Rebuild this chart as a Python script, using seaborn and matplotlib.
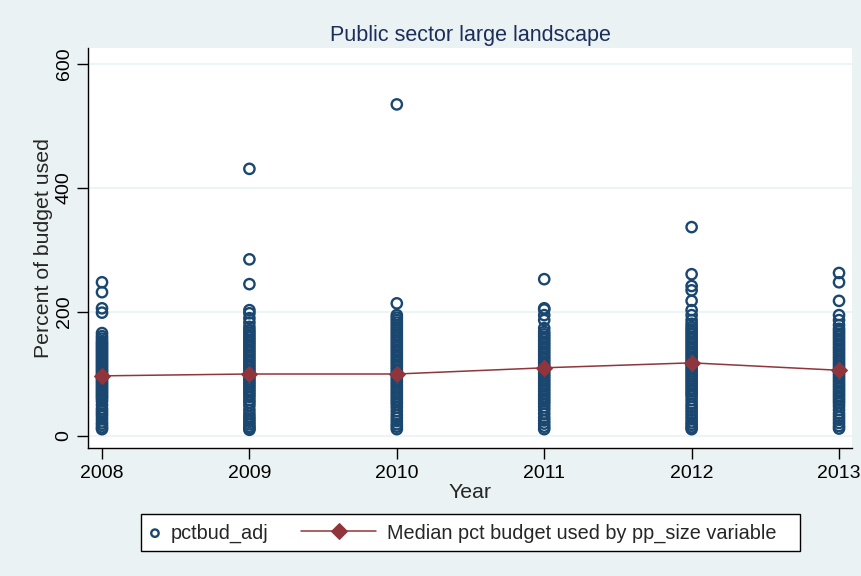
import pandas as pd
import numpy as np
import matplotlib.pyplot as plt
import seaborn as sns
from matplotlib.patches import Rectangle

sns.set_theme(style="white")
plt.rcParams['font.family'] = ['Liberation Sans', 'DejaVu Sans']

# Values (percent of budget used, per year)
years = [2008, 2009, 2010, 2011, 2012, 2013]
y2008 = [248, 232, 206, 199, 166, 161, 157, 153, 150, 147, 144, 141, 138, 135, 132, 129, 126,
         123, 120, 117, 114, 111, 108, 105, 102, 99, 96, 93, 90, 87, 84, 81, 78, 75, 72, 69,
         66, 63, 60, 56, 50, 44, 40, 36, 32, 27, 22, 18, 14, 11]
y2009 = [431, 285, 245, 203, 198, 190, 183, 176, 171, 167, 163, 159, 155, 151, 147, 143, 139,
         135, 131, 127, 123, 119, 115, 111, 107, 103, 99, 95, 91, 87, 83, 79, 75, 71, 67, 63,
         58, 54, 49, 42, 36, 31, 27, 23, 19, 15, 12, 10]
y2010 = [535, 214, 195, 191, 187, 183, 179, 175, 171, 167, 163, 159, 155, 151, 147, 143, 139,
         135, 131, 127, 123, 119, 115, 111, 107, 103, 99, 95, 91, 87, 83, 79, 75, 71, 67, 63,
         59, 55, 51, 46, 40, 34, 29, 24, 19, 15, 11]
y2011 = [253, 206, 204, 195, 187, 174, 168, 164, 160, 156, 152, 148, 144, 140, 136, 132, 128,
         124, 120, 116, 112, 108, 104, 100, 96, 92, 88, 84, 80, 76, 72, 68, 64, 60, 56, 52,
         47, 42, 36, 30, 25, 20, 15, 11]
y2012 = [337, 261, 242, 235, 218, 203, 195, 187, 181, 176, 172, 168, 164, 160, 156, 152, 148,
         144, 140, 136, 132, 128, 124, 120, 116, 112, 108, 104, 100, 96, 92, 88, 84, 80, 76,
         72, 68, 64, 58, 52, 47, 42, 37, 32, 27, 22, 18, 14, 11]
y2013 = [263, 248, 218, 195, 187, 179, 173, 169, 165, 161, 157, 153, 149, 145, 141, 137, 133,
         129, 125, 121, 117, 113, 109, 105, 101, 97, 93, 89, 85, 81, 77, 73, 69, 65, 61, 57,
         53, 48, 42, 36, 31, 26, 21, 16, 12]
medians = [97, 100, 100, 110, 118, 106]
yticks = [0, 200, 400, 600]

pts = pd.DataFrame({
    'year': np.repeat(years, [len(v) for v in (y2008, y2009, y2010, y2011, y2012, y2013)]),
    'pct': y2008 + y2009 + y2010 + y2011 + y2012 + y2013,
})
med = pd.DataFrame({'year': years, 'median': medians})

navy = '#1a476f'
maroon = '#90353b'
bg = '#eaf2f3'
W, H = 862, 576

fig = plt.figure(figsize=(W / 100, H / 100), dpi=100, facecolor=bg)
ax = fig.add_axes([88 / W, 1 - 448 / H, (852 - 88) / W, (448 - 48) / H])
ax.set_facecolor('white')

sns.scatterplot(data=pts, x='year', y='pct', ax=ax, marker='o', s=55,
                facecolors='none', edgecolor=navy, linewidth=1.7,
                label='pctbud_adj', zorder=2)
sns.lineplot(data=med, x='year', y='median', ax=ax, color=maroon, linewidth=1.1,
             marker='D', markersize=8.5, markeredgecolor=maroon,
             label='Median pct budget used by pp_size variable', zorder=3)

ax.set_xlim(2007.905, 2013.088)
ax.set_ylim(-19.4, 626)
ax.set_xticks(years)
ax.set_yticks(yticks)
ax.set_yticklabels([str(t) for t in yticks], rotation=90, va='center')
ax.grid(axis='y', color=bg, linewidth=1.2)
ax.set_axisbelow(True)
for s in ['top', 'right']:
    ax.spines[s].set_visible(False)
for s in ['left', 'bottom']:
    ax.spines[s].set_color('black')
    ax.spines[s].set_linewidth(1.0)
ax.tick_params(axis='both', which='major', direction='out', length=8, width=1,
               color='black', labelsize=14, labelcolor='black', bottom=True, left=True)
ax.tick_params(axis='x', pad=4)
ax.tick_params(axis='y', pad=3)
ax.set_xlabel('Year', fontsize=15.3, labelpad=1)
ax.set_ylabel('Percent of budget used', fontsize=15.3, labelpad=2)
ax.set_title('Public sector large landscape', fontsize=15.5, color='#1c2d5a', pad=5)

# Stata-style legend box below the plot
ax.get_legend().remove()
h, l = ax.get_legend_handles_labels()
fig.add_artist(Rectangle((141 / W, 1 - 551 / H), (800 - 141) / W, (551 - 514) / H,
                         transform=fig.transFigure, facecolor='white',
                         edgecolor='black', linewidth=1.0, zorder=1))
ly = 1 - 533 / H
fig.legend([h[0]], [l[0]], loc='center left', bbox_to_anchor=(147 / W, ly),
           frameon=False, fontsize=14.3, handlelength=0.8, handletextpad=0.4,
           borderpad=0, borderaxespad=0, markerscale=0.72, scatterpoints=1)
fig.legend([h[1]], [l[1]], loc='center left', bbox_to_anchor=(301 / W, ly),
           frameon=False, fontsize=14.3, handlelength=3.78, handletextpad=0.55,
           borderpad=0, borderaxespad=0)

fig.savefig('out.png', dpi=100, facecolor=bg)
